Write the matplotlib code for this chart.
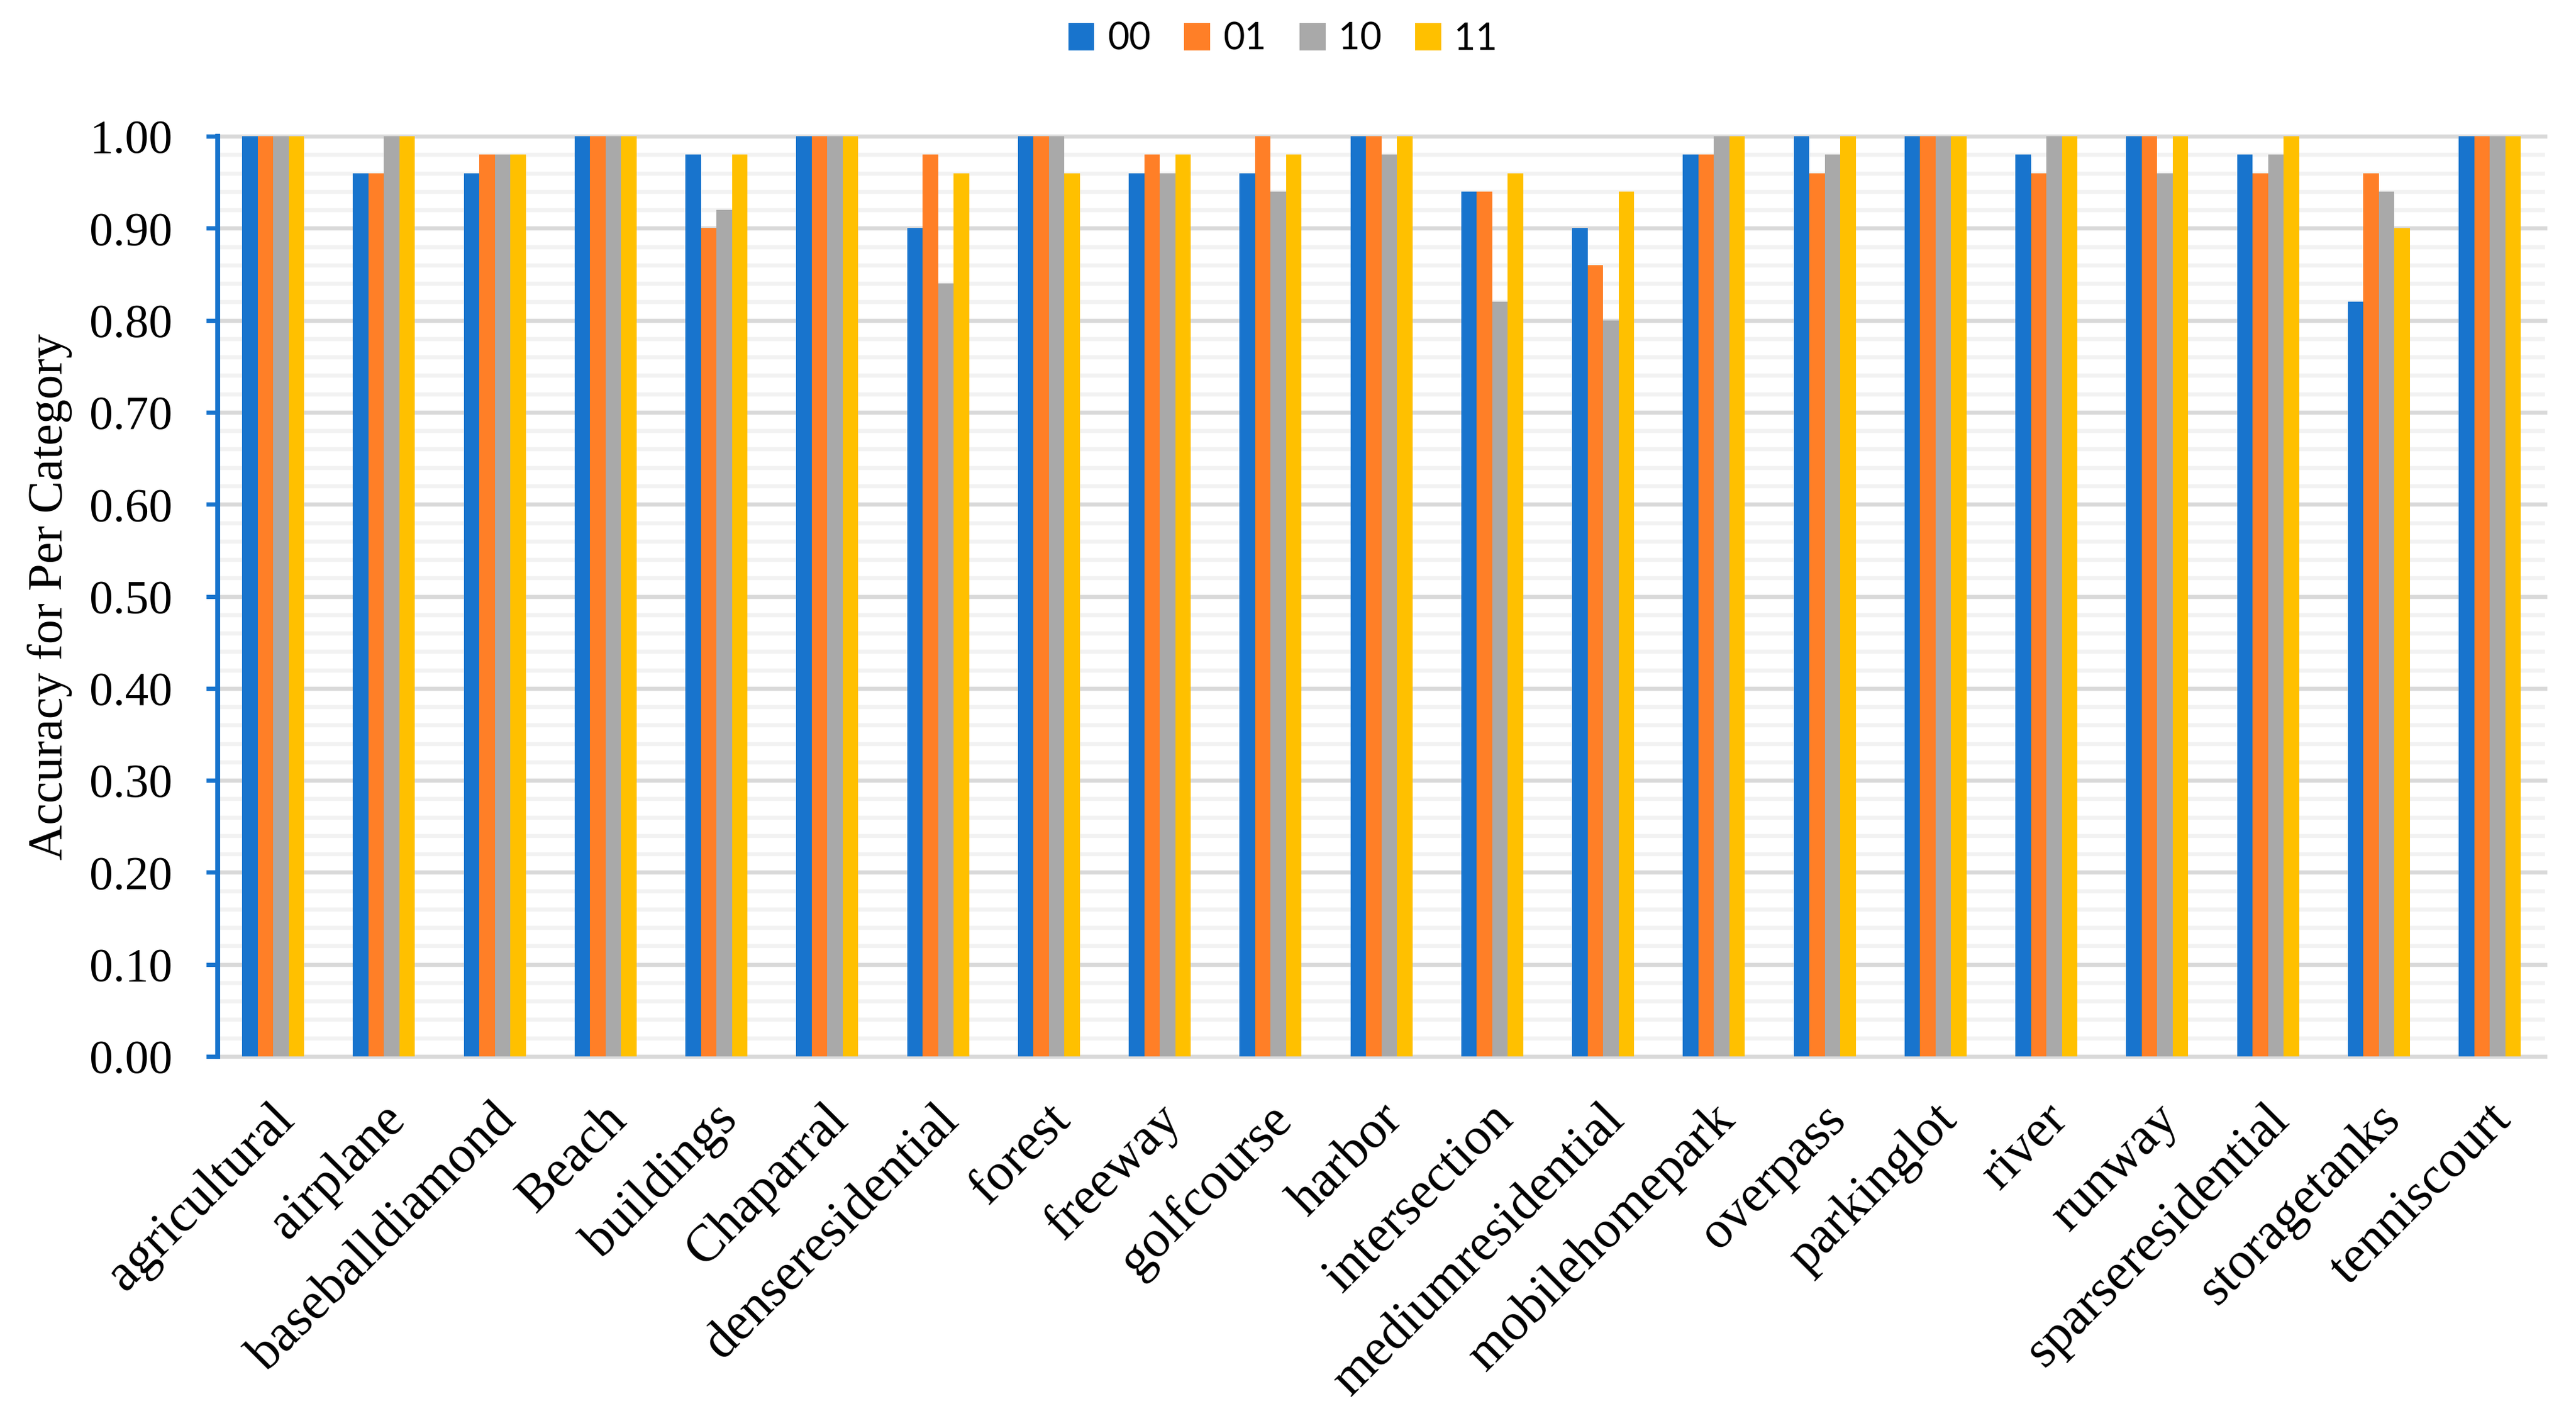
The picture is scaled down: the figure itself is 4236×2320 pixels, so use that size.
import matplotlib
matplotlib.use('Agg')
import matplotlib.pyplot as plt
import matplotlib.transforms as mtransforms
import numpy as np
from matplotlib.ticker import MultipleLocator, FormatStrFormatter
from matplotlib.patches import Patch

categories = ['agricultural', 'airplane', 'baseballdiamond', 'Beach', 'buildings',
              'Chaparral', 'denseresidential', 'forest', 'freeway', 'golfcourse',
              'harbor', 'intersection', 'mediumresidential', 'mobilehomepark',
              'overpass', 'parkinglot', 'river', 'runway', 'sparseresidential',
              'storagetanks', 'tenniscourt']
s00 = [1.00, 0.96, 0.96, 1.00, 0.98, 1.00, 0.90, 1.00, 0.96, 0.96, 1.00,
       0.94, 0.90, 0.98, 1.00, 1.00, 0.98, 1.00, 0.98, 0.82, 1.00]
s01 = [1.00, 0.96, 0.98, 1.00, 0.90, 1.00, 0.98, 1.00, 0.98, 1.00, 1.00,
       0.94, 0.86, 0.98, 0.96, 1.00, 0.96, 1.00, 0.96, 0.96, 1.00]
s10 = [1.00, 1.00, 0.98, 1.00, 0.92, 1.00, 0.84, 1.00, 0.96, 0.94, 0.98,
       0.82, 0.80, 1.00, 0.98, 1.00, 1.00, 0.96, 0.98, 0.94, 1.00]
s11 = [1.00, 1.00, 0.98, 1.00, 0.98, 1.00, 0.96, 0.96, 0.98, 0.98, 1.00,
       0.96, 0.94, 1.00, 1.00, 1.00, 1.00, 1.00, 1.00, 0.90, 1.00]
series_names = ['00', '01', '10', '11']
series = [s00, s01, s10, s11]
colors = ['#1874CD', '#FF7F27', '#A9A9A9', '#FFC000']
ylabel = 'Accuracy for Per Category'

plt.rcParams['font.family'] = ['Liberation Serif', 'DejaVu Serif']
sans = ['Lato', 'DejaVu Sans']

fig = plt.figure(figsize=(21.18, 11.6), dpi=200)
ax = fig.add_axes([0.0845, 0.2513, 0.9035, 0.6521])

x = np.arange(len(categories))
w = 0.14
for k, (name, vals, c) in enumerate(zip(series_names, series, colors)):
    ax.bar(x + (k - 1.5) * w, vals, width=w, color=c, label=name, zorder=3)

ax.set_xlim(-0.5, len(categories) - 0.5)
ax.set_ylim(0, 1.0)
ax.yaxis.set_major_locator(MultipleLocator(0.1))
ax.yaxis.set_minor_locator(MultipleLocator(0.02))
ax.yaxis.set_major_formatter(FormatStrFormatter('%.2f'))
ax.grid(which='minor', axis='y', color='#F2F2F2', lw=2.4, zorder=0)
ax.grid(which='major', axis='y', color='#D9D9D9', lw=2.4, zorder=1)
for gl in ax.yaxis.get_gridlines():
    gl.set_clip_on(False)
ax.set_axisbelow(True)

for side in ['top', 'right', 'bottom']:
    ax.spines[side].set_visible(False)
ax.spines['left'].set_color('#1874CD')
ax.spines['left'].set_linewidth(2.9)
ax.spines['left'].set_zorder(5)

ax.tick_params(axis='y', which='major', length=6.8, width=2.5, color='#1874CD',
               pad=20, labelsize=28)
ax.tick_params(axis='y', which='minor', length=0)

ax.set_xticks(x)
ax.set_xticklabels(categories, rotation=45, ha='right', va='top',
                   rotation_mode='anchor', fontsize=31)
ax.tick_params(axis='x', length=0, pad=23)
offset = mtransforms.ScaledTranslation(-2 / 72, 0, fig.dpi_scale_trans)
for lbl in ax.get_xticklabels():
    lbl.set_transform(lbl.get_transform() + offset)

fig.text(82 / 4236, 0.577, ylabel, rotation=90, ha='center', va='center',
         fontsize=29)

handles = [Patch(facecolor=c, edgecolor='none') for c in colors]
fig.legend(handles, series_names, loc='center', bbox_to_anchor=(0.498, 1 - 64 / 2320),
           ncol=4, frameon=False, handlelength=0.7, handleheight=0.75,
           handletextpad=0.35, columnspacing=0.9, prop={'family': sans, 'size': 22})

fig.savefig('out.png', dpi=200)
